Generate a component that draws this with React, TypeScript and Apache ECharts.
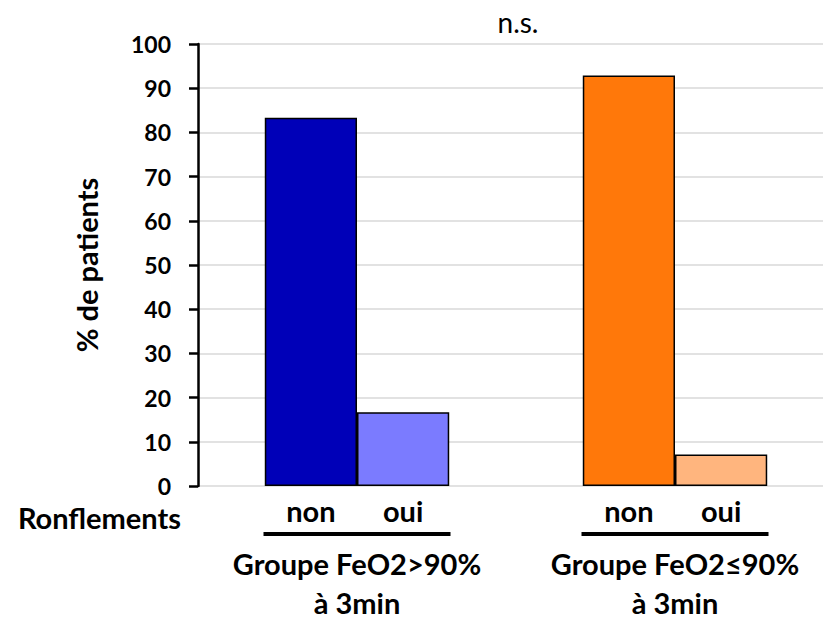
import React, { useEffect, useRef } from "react";
import * as echarts from "echarts";

const groups = ["Groupe FeO2>90%\nà 3min", "Groupe FeO2≤90%\nà 3min"];
const seriesNames = ["non", "oui"];
const nonValues = [83.3, 92.9];
const ouiValues = [16.7, 7.1];
const nonColors = ["#0000B8", "#FF780A"];
const ouiColors = ["#7B7BFF", "#FFB57E"];
const yTicks = { min: 0, max: 100, interval: 10 };

const FONT = "Lato, 'Noto Sans', sans-serif";
const FS = 29;

export default function App() {
  const ref = useRef<HTMLDivElement>(null);
  useEffect(() => {
    if (!ref.current) return;
    const chart = echarts.init(ref.current, undefined, { renderer: "svg" });
    const mk = (vals: number[], cols: string[]) =>
      vals.map((v, i) => ({ value: v, itemStyle: { color: cols[i] } }));
    const barLabel = (name: string) => ({
      show: true,
      position: "bottom",
      distance: 10,
      formatter: () => name,
      fontSize: FS,
      fontWeight: "bold",
      color: "#000",
      fontFamily: FONT,
    });
    chart.setOption({
      animation: false,
      backgroundColor: "#fff",
      textStyle: { fontFamily: FONT },
      grid: { left: 198, top: 44, width: 636, bottom: 133, containLabel: false },
      xAxis: {
        type: "category",
        data: groups,
        axisLine: { show: false },
        axisTick: { show: false },
        axisLabel: {
          margin: 46,
          interval: 0,
          formatter: (v: string) => {
            const [a, b] = v.split("\n");
            return `{line|}\n{sp|}\n{t|${a}}\n{t|${b}}`;
          },
          rich: {
            line: { width: 187, height: 4, backgroundColor: "#000" },
            sp: { width: 1, height: 8 },
            t: {
              fontSize: FS,
              fontWeight: "bold",
              color: "#000",
              fontFamily: FONT,
              lineHeight: 39,
            },
          },
        },
      },
      yAxis: {
        type: "value",
        ...yTicks,
        name: "% de patients",
        nameLocation: "middle",
        nameGap: 97,
        nameRotate: 90,
        nameTextStyle: { fontSize: FS, fontWeight: "bold", color: "#000", fontFamily: FONT },
        axisLine: { show: true, lineStyle: { color: "#000", width: 2.5 } },
        axisTick: { show: true, length: 9, lineStyle: { color: "#000", width: 2.5 } },
        axisLabel: { margin: 27, fontSize: 23, fontWeight: "bold", color: "#000", fontFamily: FONT },
        splitLine: { show: true, lineStyle: { color: "#d9d9d9", width: 1.5 } },
      },
      series: [
        {
          name: seriesNames[0],
          type: "bar",
          data: mk(nonValues, nonColors),
          barGap: "0%",
          barCategoryGap: "42%",
          itemStyle: { borderColor: "#000", borderWidth: 1.5 },
          label: barLabel(seriesNames[0]),
        },
        {
          name: seriesNames[1],
          type: "bar",
          data: mk(ouiValues, ouiColors),
          barGap: "0%",
          barCategoryGap: "42%",
          itemStyle: { borderColor: "#000", borderWidth: 1.5 },
          label: barLabel(seriesNames[1]),
        },
      ],
      graphic: [
        {
          type: "text",
          x: 181,
          y: 517,
          style: {
            text: "Ronflements",
            fontSize: FS,
            fontWeight: "bold",
            fill: "#000",
            fontFamily: FONT,
            align: "right",
            verticalAlign: "middle",
          },
        },
        {
          type: "text",
          x: 518,
          y: 22,
          style: {
            text: "n.s.",
            fontSize: 28,
            fill: "#000",
            fontFamily: FONT,
            align: "center",
            verticalAlign: "middle",
          },
        },
      ],
    });
    return () => chart.dispose();
  }, []);
  return (
    <div style={{ position: "fixed", left: 0, top: 0, width: 823, height: 619, overflow: "hidden" }}>
      <div ref={ref} style={{ width: 845, height: 619 }} />
    </div>
  );
}
